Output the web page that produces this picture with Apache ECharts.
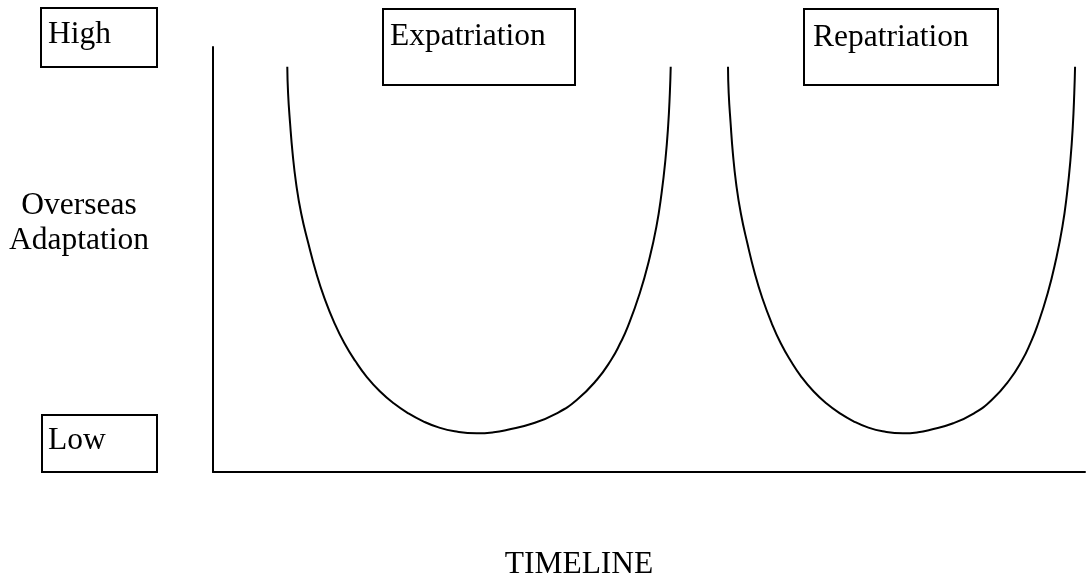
<!DOCTYPE html>
<html>
<head>
<meta charset="utf-8">
<title>Expatriation / Repatriation W-curve</title>
<script src="https://cdn.jsdelivr.net/npm/echarts@6/dist/echarts.min.js"></script>
<style>
  html, body { margin: 0; padding: 0; background: #fff; }
  #chart { width: 1089px; height: 576px; }
</style>
</head>
<body>
<div id="chart"></div>
<script>
// timeline position (0-100) and adaptation level (0-100)
var expatX = [8.52, 8.61, 8.84, 9.13, 9.53, 10.11, 10.93, 11.85, 12.79, 13.94, 15.07, 16.34, 17.67, 19.13, 20.72, 22.40, 24.11, 25.87, 27.71, 30.24,
              32.19, 33.68, 36.73, 39.42, 41.71, 44.00, 45.65, 46.70, 47.57, 48.94, 50.01, 50.85, 51.44, 51.88, 52.19, 52.39, 52.49];
var expatY = [95.36, 89.11, 82.05, 74.99, 67.93, 60.87, 53.81, 46.75, 40.87, 34.99, 30.28, 26.05, 22.28, 18.99, 16.16, 13.81, 11.93, 10.49, 9.58, 9.11,
              9.34, 9.88, 11.46, 13.81, 16.94, 21.65, 26.35, 30.28, 34.19, 42.05, 49.88, 57.72, 65.58, 73.41, 81.25, 89.11, 95.36];
var repatX = [59.06, 59.14, 59.36, 59.62, 59.99, 60.53, 61.28, 62.13, 63.00, 64.07, 65.11, 66.28, 67.51, 68.86, 70.33, 71.88, 73.46, 75.09, 76.79, 79.13,
              80.86, 82.18, 84.89, 87.27, 89.30, 91.33, 92.80, 93.73, 94.50, 95.72, 96.66, 97.41, 97.94, 98.33, 98.60, 98.77, 98.86];
var repatY = [95.36, 89.11, 82.05, 74.99, 67.93, 60.87, 53.81, 46.75, 40.87, 34.99, 30.28, 26.05, 22.28, 18.99, 16.16, 13.81, 11.93, 10.49, 9.58, 9.11,
              9.34, 9.88, 11.46, 13.81, 16.94, 21.65, 26.35, 30.28, 34.19, 42.05, 49.88, 57.72, 65.58, 73.41, 81.25, 89.11, 95.36];

var phaseLabels = ["Expatriation", "Repatriation"];
var levelLabels = ["High", "Low"];
var yAxisTitle = ["Overseas", "Adaptation"];
var xAxisTitle = "TIMELINE";

function pairs(xs, ys) {
  var out = [];
  for (var i = 0; i < xs.length; i++) {
    out.push([xs[i], ys[i]]);
  }
  return out;
}

var font = "'Liberation Serif', 'DejaVu Serif', serif";

function box(x, y, w, h) {
  return {
    type: "rect",
    shape: { x: x, y: y, width: w, height: h },
    style: { fill: "#fff", stroke: "#000", lineWidth: 2 }
  };
}

function label(txt, x, y, align) {
  return {
    type: "text",
    x: x,
    y: y,
    style: {
      text: txt,
      font: "31.5px " + font,
      fill: "#000",
      align: align || "left",
      verticalAlign: "middle"
    }
  };
}

var myChart = echarts.init(document.getElementById("chart"));
var option = {
  animation: false,
  backgroundColor: "#fff",
  grid: {
    left: 213,
    right: 4,
    top: 47,
    bottom: 104
  },
  xAxis: {
    type: "value",
    min: 0,
    max: 100,
    axisLine: { show: true, lineStyle: { color: "#000", width: 2 } },
    axisTick: { show: false },
    axisLabel: { show: false },
    splitLine: { show: false }
  },
  yAxis: {
    type: "value",
    min: 0,
    max: 100,
    axisLine: { show: true, lineStyle: { color: "#000", width: 2 } },
    axisTick: { show: false },
    axisLabel: { show: false },
    splitLine: { show: false }
  },
  series: [
    {
      name: phaseLabels[0],
      type: "line",
      smooth: true,
      symbol: "none",
      lineStyle: { color: "#000", width: 2 },
      data: pairs(expatX, expatY)
    },
    {
      name: phaseLabels[1],
      type: "line",
      smooth: true,
      symbol: "none",
      lineStyle: { color: "#000", width: 2 },
      data: pairs(repatX, repatY)
    }
  ],
  graphic: [
    box(41, 8, 116, 59),
    label(levelLabels[0], 48, 35),
    box(42, 415, 115, 57),
    label(levelLabels[1], 48, 441),
    box(383, 9, 192, 76),
    label(phaseLabels[0], 390, 37),
    box(804, 9, 194, 76),
    label(phaseLabels[1], 813, 38),
    label(yAxisTitle[0], 79, 206, "center"),
    label(yAxisTitle[1], 79, 241, "center"),
    label(xAxisTitle, 579, 565, "center")
  ]
};
myChart.setOption(option);
</script>
</body>
</html>
